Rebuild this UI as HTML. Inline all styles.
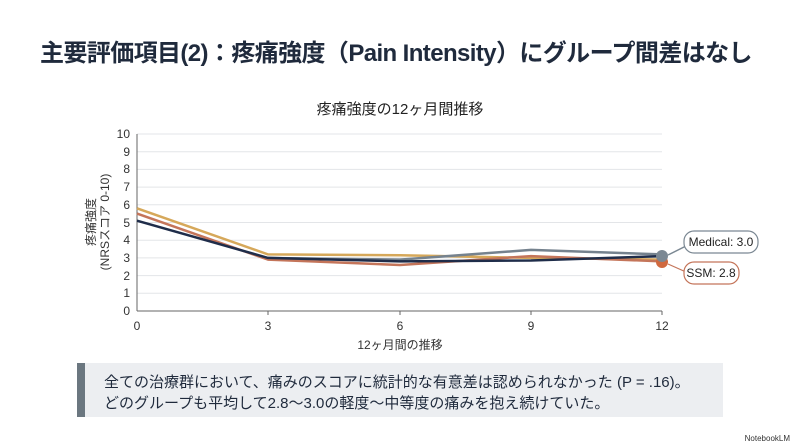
<!DOCTYPE html>
<html><head><meta charset="utf-8"><style>
body{margin:0;width:800px;height:447px;background:#fff;overflow:hidden;font-family:"Liberation Sans","Noto Sans CJK JP",sans-serif;position:relative}
.t{position:absolute;left:40px;top:33px;font-size:24px;color:#1f2a3c;font-weight:bold;white-space:nowrap;letter-spacing:-0.6px}
.box{position:absolute;left:77px;top:363px;width:646px;height:54px;background:#eceef1;border-left:8px solid #6b7780;box-sizing:border-box}
.box div{position:absolute;left:19px;font-size:15px;color:#1f2a3c;white-space:nowrap}
.nb{position:absolute;right:10px;bottom:4px;font-size:8px;color:#333}
</style></head><body>
<div class="t">主要評価項目(2)：疼痛強度（Pain Intensity）にグループ間差はなし</div>
<svg width="800" height="447" style="position:absolute;left:0;top:0" font-family="Liberation Sans, Noto Sans CJK JP, sans-serif">
<text x="400" y="114" text-anchor="middle" font-size="15" fill="#222">疼痛強度の12ヶ月間推移</text>
<g stroke="#e3e5e8" stroke-width="1">
<line x1="137" x2="662" y1="134" y2="134"/><line x1="137" x2="662" y1="151.7" y2="151.7"/><line x1="137" x2="662" y1="169.4" y2="169.4"/><line x1="137" x2="662" y1="187.1" y2="187.1"/><line x1="137" x2="662" y1="204.8" y2="204.8"/><line x1="137" x2="662" y1="222.5" y2="222.5"/><line x1="137" x2="662" y1="240.2" y2="240.2"/><line x1="137" x2="662" y1="257.9" y2="257.9"/><line x1="137" x2="662" y1="275.6" y2="275.6"/><line x1="137" x2="662" y1="293.3" y2="293.3"/>
</g>
<g stroke="#666" stroke-width="1"><line x1="137" y1="134" x2="137" y2="311"/><line x1="137" y1="311" x2="662" y2="311"/>
<line x1="268" y1="311" x2="268" y2="315"/><line x1="400" y1="311" x2="400" y2="315"/><line x1="531" y1="311" x2="531" y2="315"/><line x1="662" y1="311" x2="662" y2="315"/></g>
<g font-size="12" fill="#333" text-anchor="end">
<text x="130" y="138">10</text><text x="130" y="156">9</text><text x="130" y="173">8</text><text x="130" y="191">7</text><text x="130" y="209">6</text><text x="130" y="227">5</text><text x="130" y="244">4</text><text x="130" y="262">3</text><text x="130" y="280">2</text><text x="130" y="297">1</text><text x="130" y="315">0</text>
</g>
<g font-size="12" fill="#333" text-anchor="middle">
<text x="137" y="330">0</text><text x="268" y="330">3</text><text x="400" y="330">6</text><text x="531" y="330">9</text><text x="662" y="330">12</text>
<text x="400" y="349">12ヶ月間の推移</text>
</g>
<g font-size="12" fill="#333" text-anchor="middle">
<text transform="translate(95,222) rotate(-90)">疼痛強度</text>
<text transform="translate(109,222) rotate(-90)">(NRSスコア 0-10)</text>
</g>
<g fill="none" stroke-width="2.5" stroke-linejoin="round">
<polyline stroke="#d6a85a" points="137,208.3 268,254.4 400,255.2 531,257.9 662,259.6"/>
<polyline stroke="#75828e" points="268,258 400,259.6 531,249.9 662,254.4"/>
<polyline stroke="#c4755a" points="137,213.6 268,259.6 400,265 531,256.1 662,261.4"/>
<polyline stroke="#1f2d4a" points="137,220.7 268,257.9 400,261.4 531,260.5 662,256.1"/>
</g>
<circle cx="662" cy="262" r="6" fill="#d0693f"/>
<circle cx="662" cy="256" r="6" fill="#7b8893"/>
<path d="M668,255 L688,245" stroke="#7b8893" stroke-width="1.5"/>
<rect x="684" y="231" width="74" height="22" rx="10" fill="#fff" stroke="#7b8893" stroke-width="1.2"/>
<text x="721" y="246" text-anchor="middle" font-size="12" fill="#222">Medical: 3.0</text>
<path d="M668,264 L686,272" stroke="#c4755a" stroke-width="1.2"/>
<rect x="684" y="262" width="55" height="22" rx="10" fill="#fff" stroke="#c4755a" stroke-width="1.2"/>
<text x="711" y="277" text-anchor="middle" font-size="12" fill="#222">SSM: 2.8</text>
</svg>
<div class="box"><div style="top:8px">全ての治療群において、痛みのスコアに統計的な有意差は認められなかった (P = .16)。</div><div style="top:29px">どのグループも平均して2.8〜3.0の軽度〜中等度の痛みを抱え続けていた。</div></div>
<div class="nb">NotebookLM</div>
</body></html>
